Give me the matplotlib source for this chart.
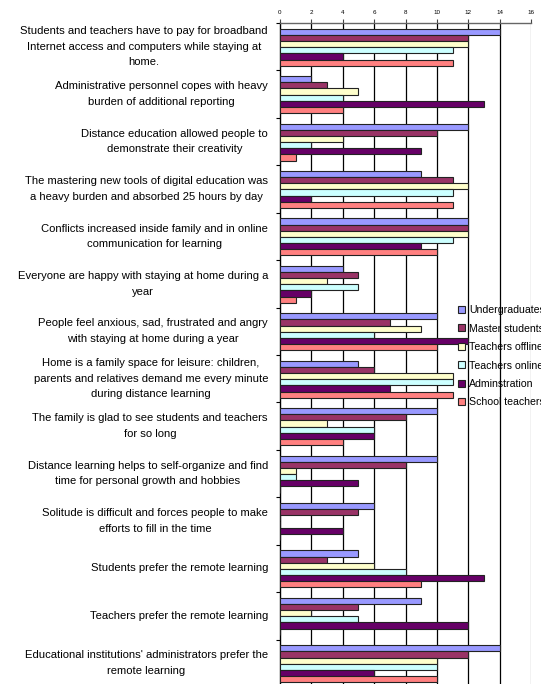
import numpy as np
import matplotlib.pyplot as plt
from matplotlib.patches import Patch
from matplotlib.transforms import blended_transform_factory

plt.rcParams['font.family'] = ['Liberation Sans', 'DejaVu Sans']

# statements (top to bottom)
statements = [
    "Students and teachers have to pay for broadband\nInternet access and computers while staying at\nhome.",
    "Administrative personnel copes with heavy\nburden of additional reporting",
    "Distance education allowed people to\ndemonstrate their creativity",
    "The mastering new tools of digital education was\na heavy burden and absorbed 25 hours by day",
    "Conflicts increased inside family and in online\ncommunication for learning",
    "Everyone are happy with staying at home during a\nyear",
    "People feel anxious, sad, frustrated and angry\nwith staying at home during a year",
    "Home is a family space for leisure: children,\nparents and relatives demand me every minute\nduring distance learning",
    "The family is glad to see students and teachers\nfor so long",
    "Distance learning helps to self-organize and find\ntime for personal growth and hobbies",
    "Solitude is difficult and forces people to make\nefforts to fill in the time",
    "Students prefer the remote learning",
    "Teachers prefer the remote learning",
    "Educational institutions' administrators prefer the\nremote learning",
]

groups = ["Undergraduates", "Master students", "Teachers offline",
          "Teachers online", "Adminstration", "School teachers"]
colors = ["#9999FF", "#993366", "#FFFFCC", "#CCFFFF", "#660066", "#FF8080"]

undergraduates   = [14, 2, 12, 9, 12, 4, 10, 5, 10, 10, 6, 5, 9, 14]
master_students  = [12, 3, 10, 11, 12, 5, 7, 6, 8, 8, 5, 3, 5, 12]
teachers_offline = [12, 5, 4, 12, 12, 3, 9, 11, 3, 1, 0, 6, 2, 10]
teachers_online  = [11, 4, 2, 11, 11, 5, 6, 11, 6, 1, 0, 8, 5, 10]
adminstration    = [4, 13, 9, 2, 9, 2, 12, 7, 6, 5, 4, 13, 12, 6]
school_teachers  = [11, 4, 1, 11, 10, 1, 10, 11, 4, 0, 0, 9, 0, 10]

series = [undergraduates, master_students, teachers_offline,
          teachers_online, adminstration, school_teachers]

W, H = 541, 684
fig = plt.figure(figsize=(W / 100, H / 100), dpi=100)
ax_left, ax_right, ax_top, ax_bottom = 280, 531, 23, 687
ax = fig.add_axes([ax_left / W, 1 - ax_bottom / H,
                   (ax_right - ax_left) / W, (ax_bottom - ax_top) / H])

n = len(statements)
h = 0.13
pos = np.arange(n) + 0.51
for j, (vals, c) in enumerate(zip(series, colors)):
    ax.barh(pos + (j - 2.5) * h, vals, height=h, color=c,
            edgecolor='#222222', linewidth=0.8, zorder=3)

ax.set_xlim(0, 16)
ax.set_ylim(n, 0)

# vertical gridlines
for v in range(2, 15, 2):
    ax.axvline(v, color='black', linewidth=0.9, zorder=1)
ax.axvline(16, color='#999999', linewidth=0.9, zorder=1)

ax.xaxis.tick_top()
ax.set_xticks(range(0, 17, 2))
ax.tick_params(axis='x', labelsize=4.5, length=3, width=0.8, pad=2.5,
               colors='#444444', labelcolor='black')
ax.set_yticks(range(n + 1))
ax.set_yticklabels([])
ax.tick_params(axis='y', length=3, width=0.8, direction='out')

for s in ['right', 'bottom']:
    ax.spines[s].set_visible(False)
ax.spines['left'].set_color('black')
ax.spines['left'].set_linewidth(1.0)
ax.spines['top'].set_color('#666666')
ax.spines['top'].set_linewidth(1.0)

# category labels, right-aligned blocks with centered lines
trans = blended_transform_factory(fig.transFigure, ax.transData)
for i, s in enumerate(statements):
    fig.text(268 / W, i + 0.5, s, transform=trans, ha='right', va='center',
             multialignment='center', fontsize=8.1, linespacing=1.72)

handles = [Patch(facecolor=c, edgecolor='#222222', linewidth=0.8) for c in colors]
fig.legend(handles, groups, loc='upper left',
           bbox_to_anchor=(454 / W, 1 - 301 / H), frameon=False,
           fontsize=7.6, handlelength=0.65, handleheight=0.65,
           handletextpad=0.4, labelspacing=0.8, borderaxespad=0)

fig.savefig("out.png", dpi=100)
